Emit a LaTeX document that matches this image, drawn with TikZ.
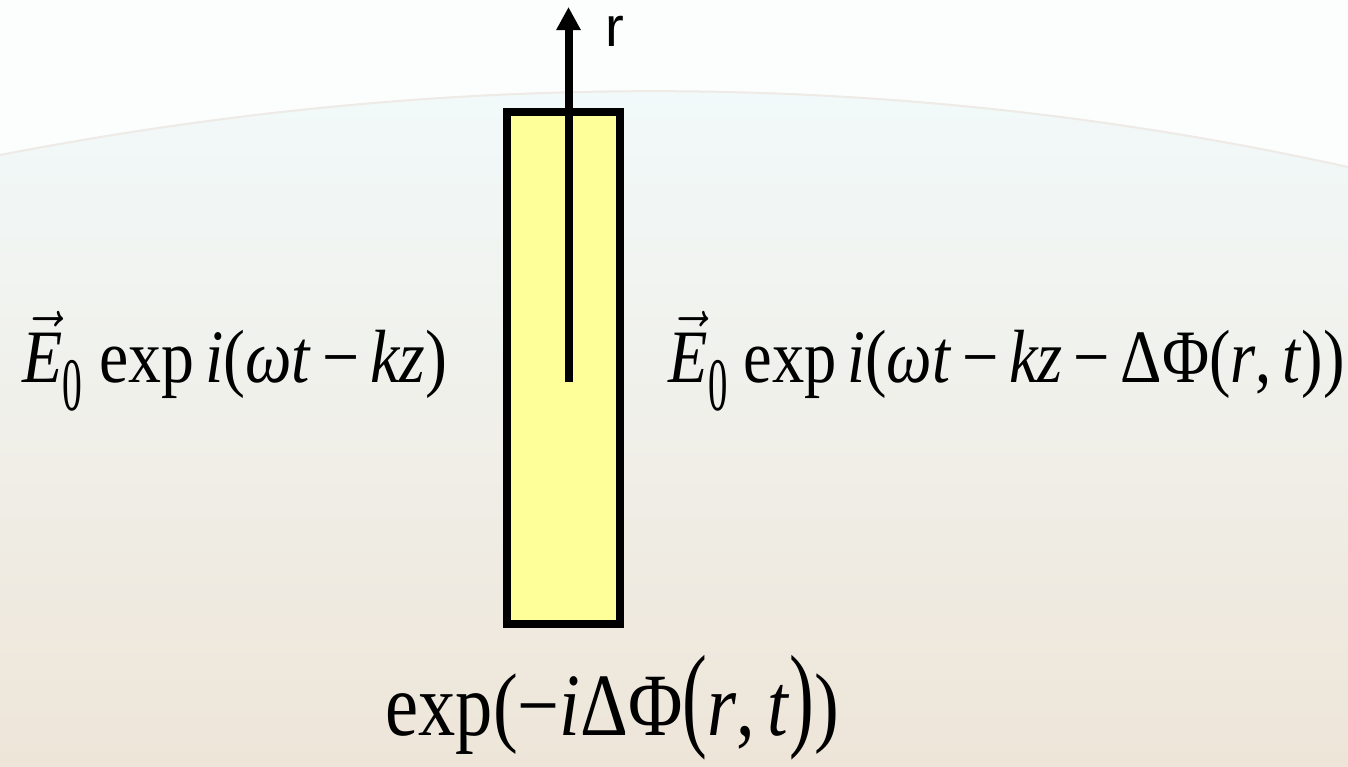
\documentclass[tikz,border=0pt]{standalone}
\usepackage{fontspec}
\setmainfont{Liberation Serif}
\setsansfont{Liberation Sans}
\usetikzlibrary{arrows.meta}
\definecolor{platefill}{RGB}{255,255,153}
\definecolor{skytop}{RGB}{252,254,253}
\definecolor{bgtop}{RGB}{242,250,251}
\definecolor{bgmid}{RGB}{245,247,238}
\definecolor{bgbot}{RGB}{238,229,216}
\definecolor{arcline}{RGB}{238,234,230}
\newcommand{\vE}{$\vec{\textit{E}}$\raisebox{-7pt}{\scalebox{0.6}[1]{0}}}
\newcommand{\mi}{\,−\,}
\tikzset{
  formula/.style={inner sep=0pt, font=\fontsize{19.5}{22}\selectfont},
  plate/.style={draw=black, fill=platefill, line width=0.08cm, minimum width=1.12cm, minimum height=5.125cm, inner sep=0pt},
  axis/.style={line width=0.08cm, -{Triangle[length=0.23cm,width=0.23cm]}}
}
\begin{document}
\begin{tikzpicture}[x=0.01cm,y=-0.01cm]
    % 背景
    \useasboundingbox (0,0) rectangle (1348,767);
    \fill[skytop] (0,0) rectangle (1348,767);
    \shade[top color=bgtop, middle color=bgmid, bottom color=bgbot]
        (0,155) .. controls (450,68) and (900,68) .. (1348,167) -- (1348,767) -- (0,767) -- cycle;
    \draw[arcline, line width=0.02cm] (0,155) .. controls (450,68) and (900,68) .. (1348,167);

    % 相位板
    \node[plate] (plate) at (563.5,368) {};
    \coordinate (r0) at (568.5,382);
    \coordinate (r1) at (568.5,7);
    \draw[axis] (r0) -- (r1);
    \node[inner sep=0pt, anchor=base west, font=\sffamily\fontsize{16}{18}\selectfont] (rlab) at (605,47) {r};

    % 公式
    \node[formula, anchor=base west] (ein) at (22,383)
        {\scalebox{0.96}[1.1]{\vE\ exp\,\textit{i}(\textit{ωt}\mi\textit{kz})}};
    \node[formula, anchor=base west] (eout) at (668,383)
        {\scalebox{0.94}[1.1]{\vE\ exp\,\textit{i}(\textit{ωt}\mi\textit{kz}\mi ΔΦ(\textit{r},\,\textit{t}))}};
    \node[formula, anchor=base west, font=\fontsize{23}{26}\selectfont] (phase) at (385,735)
        {\scalebox{0.92}[1.1]{exp(−\textit{i}ΔΦ\scalebox{1}[1.3]{(}\textit{r},\,\textit{t}\scalebox{1}[1.3]{)})}};
\end{tikzpicture}
\end{document}
